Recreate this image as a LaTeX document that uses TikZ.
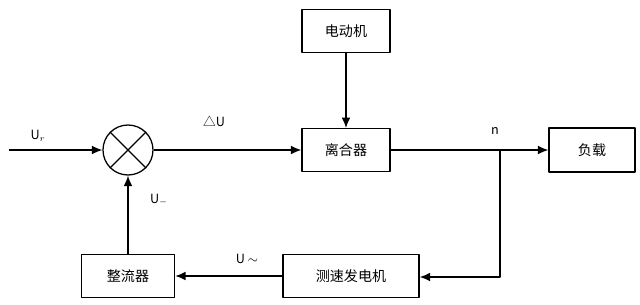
\documentclass[tikz,border=0pt]{standalone}
\usepackage{fontspec}
\newfontfamily\cjk{Noto Sans CJK SC}
\usetikzlibrary{arrows.meta}
\begin{document}
\begin{tikzpicture}[x=0.025cm, y=-0.025cm, font=\cjk\normalsize, line join=round, >={Latex[length=2.6mm,width=2.2mm]},
	block/.style={draw, line width=0.9pt, minimum width=2.2cm, minimum height=1.07cm, inner sep=0pt},
	link/.style={->, line width=1pt},
	sig/.style={font=\cjk\small}]
	\useasboundingbox (0,0) rectangle (640,304);
	% blocks
	\node[block] (motor) at (346,31) {电动机};
	\node[block] (clutch) at (346,150) {离合器};
	\node[block, minimum width=2.15cm, minimum height=1.1cm] (load) at (592,150) {负载};
	\node[block, minimum width=2.33cm] (rect) at (128,276) {整流器};
	\node[block, minimum width=3.4cm] (tacho) at (351,276) {测速发电机};
	\node[draw, circle, line width=0.9pt, minimum size=1.25cm, inner sep=0pt] (sum) at (128,150) {};
	\draw[line width=0.9pt] (sum.45)--(sum.225) (sum.135)--(sum.315);
	\coordinate (in) at (9,150);
	\coordinate (branch) at (500,150);
	\coordinate (corner) at (500,277);
	% connectors
	\draw[link] (in) -- (sum.west);
	\draw[link] (sum.east) -- (clutch.west);
	\draw[link] (motor.south) -- (clutch.north);
	\draw[link] (clutch.east) -- (load.west);
	\draw[link] (branch) -- (corner) -- (tacho.east |- corner);
	\draw[link] (tacho.west) -- (rect.east);
	\draw[link] (rect.north) -- (sum.south);
	% signal labels
	\node[sig] (ur) at (38,136) {U$_r$};
	\node[sig] (du) at (214,121) {△U};
	\node[sig] (um) at (159,200) {U$_-$};
	\node[sig] (ua) at (247,259) {U $\sim$};
	\node[sig] (n) at (495,131) {n};
\end{tikzpicture}
\end{document}
